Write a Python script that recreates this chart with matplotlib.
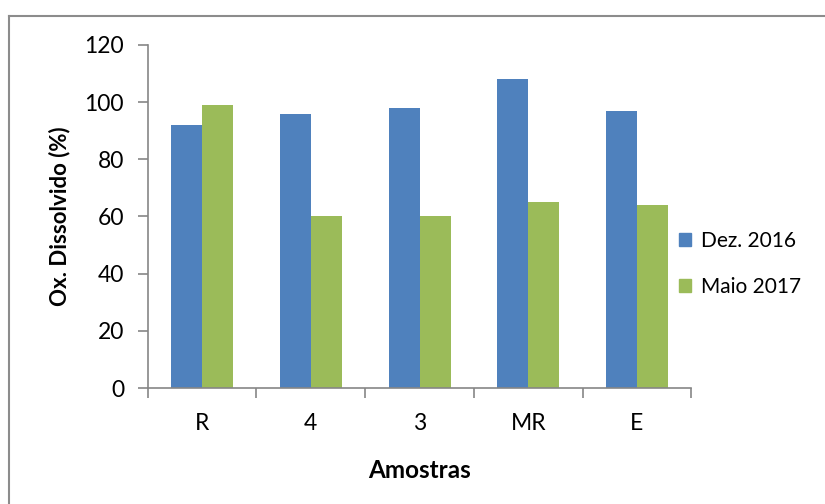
import numpy as np
import matplotlib.pyplot as plt
import matplotlib.patches as mpatches
from matplotlib.lines import Line2D

amostras = ["R", "4", "3", "MR", "E"]
dez_2016 = [92, 96, 98, 108, 97]
maio_2017 = [99, 60, 60, 65, 64]

azul = "#4F81BD"
verde = "#9BBB59"
cinza = "#868686"

plt.rcParams["font.family"] = ["Lato", "DejaVu Sans"]

fig = plt.figure(figsize=(8.25, 5.04), dpi=100)
ax = fig.add_axes([0.179, 0.230, 0.659, 0.681])

x = np.arange(len(amostras))
w = 0.285
ax.bar(x - w / 2, dez_2016, w, color=azul, label="Dez. 2016")
ax.bar(x + w / 2, maio_2017, w, color=verde, label="Maio 2017")

ax.set_xlim(-0.5, len(amostras) - 0.5)
ax.set_ylim(0, 120)
ax.set_yticks(range(0, 121, 20))
ax.tick_params(axis="y", labelsize=16.5, length=7, width=1.2, color=cinza, pad=10)

# categorias entre os ticks, como no Excel
ax.set_xticks(np.arange(-0.5, len(amostras), 1))
ax.set_xticklabels([])
ax.set_xticks(x, minor=True)
ax.set_xticklabels(amostras, minor=True, fontsize=16.5)
ax.tick_params(axis="x", which="major", length=7, width=1.2, color=cinza)
ax.tick_params(axis="x", which="minor", length=0, pad=18)

for s in ["top", "right"]:
    ax.spines[s].set_visible(False)
for s in ["left", "bottom"]:
    ax.spines[s].set_color(cinza)
    ax.spines[s].set_linewidth(1.2)

ax.set_ylabel("Ox. Dissolvido (%)", fontsize=16, fontweight="bold", labelpad=10)
ax.set_xlabel("Amostras", fontsize=17.5, fontweight="bold", labelpad=18)

handles = [mpatches.Patch(color=azul, label="Dez. 2016"),
           mpatches.Patch(color=verde, label="Maio 2017")]
fig.legend(handles=handles, loc="center left", bbox_to_anchor=(0.80, 0.477),
           frameon=False, fontsize=15, handlelength=0.6, handleheight=0.6,
           handletextpad=0.45, labelspacing=1.25)

# moldura do gráfico
fig.add_artist(Line2D([0.011, 1.0], [0.969, 0.969], color="#8c8c8c", lw=1.5))
fig.add_artist(Line2D([0.011, 0.011], [0.0, 0.969], color="#8c8c8c", lw=1.5))

fig.savefig("out.png", dpi=100)
